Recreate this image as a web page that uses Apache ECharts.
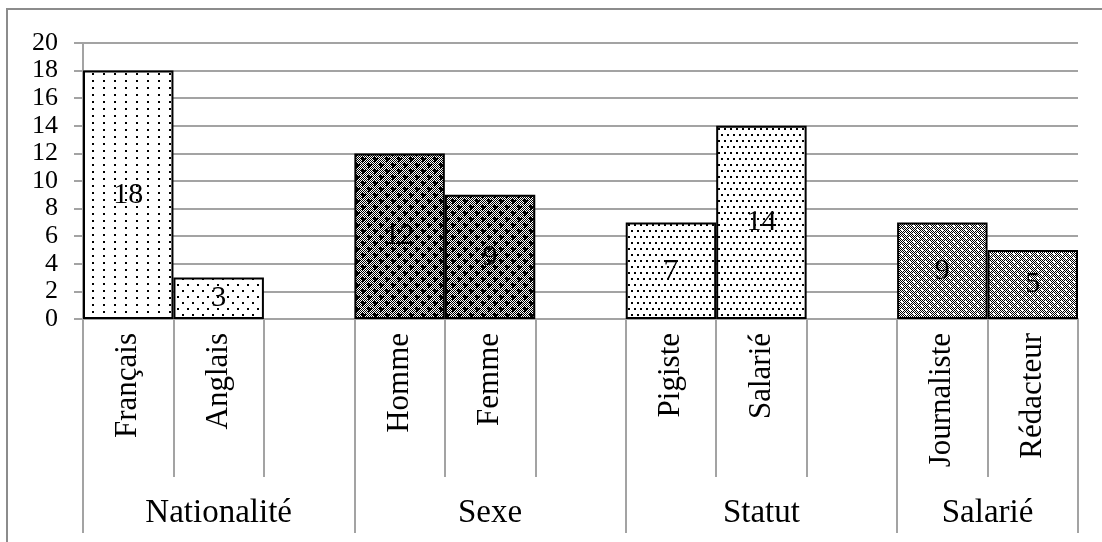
<!DOCTYPE html>
<html>
<head>
<meta charset="utf-8">
<script src="https://cdn.jsdelivr.net/npm/echarts@6/dist/echarts.min.js"></script>
<style>
  html, body { margin: 0; padding: 0; background: #fff; }
  #chart { width: 1102px; height: 542px; }
</style>
</head>
<body>
<div id="chart"></div>
<script>
// données
const categories = ['Français', 'Anglais', '', 'Homme', 'Femme', '', 'Pigiste', 'Salarié', '', 'Journaliste', 'Rédacteur']
const values = [18, 3, '-', 12, 9, '-', 7, 14, '-', 7, 5]
const labelTexts = ['18', '3', '', '12', '9', '', '7', '14', '', '9', '5']
const groups = ['Nationalité', 'Sexe', 'Statut', 'Salarié']
const groupSizes = [3, 3, 3, 2]

// bornes et centres des groupes (en nombre de cases)
const groupBounds = [0]
const groupCenters = []
groupSizes.forEach((n) => {
  const start = groupBounds[groupBounds.length - 1]
  groupCenters.push(start + n / 2)
  groupBounds.push(start + n)
})
const slotCount = groupBounds[groupBounds.length - 1]

// motifs de remplissage (style Excel)
function tile(w, h, draw) {
  const c = document.createElement('canvas')
  c.width = w
  c.height = h
  const ctx = c.getContext('2d')
  ctx.fillStyle = '#fff'
  ctx.fillRect(0, 0, w, h)
  ctx.fillStyle = '#000'
  draw(ctx, w, h)
  return { image: c, repeat: 'repeat' }
}
function checker(ctx, w, h) {
  for (let y = 0; y < h; y++) {
    for (let x = 0; x < w; x++) {
      if ((x + y) % 2 === 0) ctx.fillRect(x, y, 1, 1)
    }
  }
}
const patterns = {
  sparse: tile(11, 7, (ctx) => ctx.fillRect(4, 3, 2, 2)),
  sparse2: tile(10, 12, (ctx) => {
    ctx.fillRect(2, 2, 2, 2)
    ctx.fillRect(7, 8, 2, 2)
  }),
  dots: tile(6, 12, (ctx) => {
    ctx.fillRect(1, 2, 2, 2)
    ctx.fillRect(4, 8, 2, 2)
  }),
  dense: tile(12, 12, (ctx, w, h) => {
    checker(ctx, w, h)
    ;[[3, 3], [9, 9]].forEach(([cx, cy]) => {
      ctx.fillRect(cx - 2, cy - 1, 5, 2)
      ctx.fillRect(cx - 1, cy - 2, 2, 5)
    })
  }),
  check: tile(8, 8, (ctx, w, h) => {
    checker(ctx, w, h)
    ctx.fillStyle = '#fff'
    ctx.fillRect(1, 1, 2, 2)
    ctx.fillRect(5, 5, 2, 2)
  })
}
const patternKeys = ['sparse', 'sparse2', null, 'dense', 'dense', null, 'dots', 'dots', null, 'check', 'check']

const serif = '"Liberation Serif", "DejaVu Serif", serif'
const gray = '#a3a3a3'

const chart = echarts.init(document.getElementById('chart'))

const option = {
  animation: false,
  textStyle: { fontFamily: serif, color: '#000' },
  graphic: [
    {
      type: 'rect',
      shape: { x: 7, y: 9, width: 1300, height: 700 },
      style: { fill: 'none', stroke: '#8c8c8c', lineWidth: 2 },
      silent: true
    }
  ],
  grid: { left: 83, right: 24, top: 43, bottom: 223 },
  xAxis: [
    {
      type: 'category',
      data: categories,
      boundaryGap: true,
      axisLine: { lineStyle: { color: gray, width: 2 } },
      axisTick: { show: true, interval: 0, length: 158, lineStyle: { color: gray, width: 2 } },
      axisLabel: {
        interval: 0,
        rotate: 90,
        margin: 14,
        fontSize: 31,
        fontFamily: serif,
        color: '#000'
      },
      splitLine: { show: false }
    },
    {
      type: 'value',
      position: 'bottom',
      min: 0,
      max: slotCount,
      axisLine: { show: false },
      axisTick: {
        show: true,
        customValues: groupBounds,
        length: 214,
        lineStyle: { color: gray, width: 2 }
      },
      axisLabel: {
        customValues: groupCenters,
        margin: 178,
        fontSize: 33,
        fontFamily: serif,
        color: '#000',
        formatter: (v) => {
          const i = groupCenters.indexOf(v)
          return i >= 0 ? groups[i] : ''
        }
      },
      splitLine: { show: false }
    }
  ],
  yAxis: {
    type: 'value',
    min: 0,
    max: 20,
    interval: 2,
    axisLine: { show: true, lineStyle: { color: gray, width: 2 } },
    axisTick: { show: true, length: 9, lineStyle: { color: gray, width: 2 } },
    axisLabel: { margin: 25, fontSize: 26, fontFamily: serif, color: '#000' },
    splitLine: { lineStyle: { color: gray, width: 2 } }
  },
  series: [
    {
      type: 'bar',
      xAxisIndex: 0,
      barCategoryGap: 0,
      data: values.map((v, i) => ({
        value: v,
        itemStyle: {
          color: patternKeys[i] ? patterns[patternKeys[i]] : '#fff',
          borderColor: '#000',
          borderWidth: 2
        }
      })),
      label: {
        show: true,
        position: 'inside',
        fontSize: 30,
        fontFamily: serif,
        color: '#000',
        formatter: (p) => labelTexts[p.dataIndex]
      }
    }
  ]
}

chart.setOption(option)
</script>
</body>
</html>
